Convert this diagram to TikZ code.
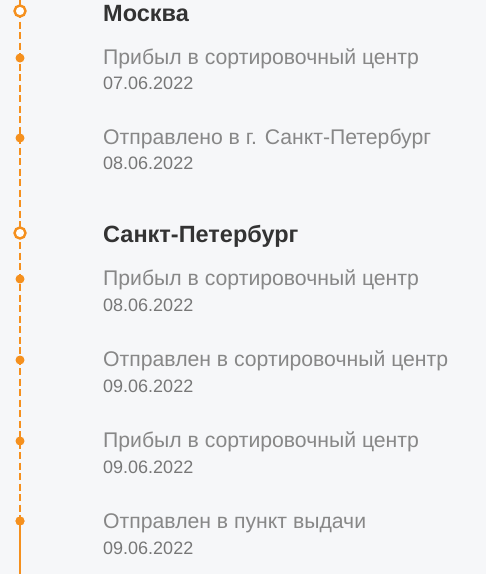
\documentclass[tikz,border=0pt]{standalone}
\usepackage{fontspec}
\setmainfont{Liberation Sans}
\definecolor{bg}{HTML}{F6F7F9}
\definecolor{orng}{HTML}{F5901E}
\definecolor{darktxt}{HTML}{333333}
\definecolor{graytxt}{HTML}{878787}
\definecolor{datetxt}{HTML}{777777}
\begin{document}
\begin{tikzpicture}[x=1pt,y=-1pt,
  city/.style={anchor=base west,inner sep=0pt,font=\fontsize{23.5}{28}\selectfont\bfseries,text=darktxt},
  evt/.style={anchor=base west,inner sep=0pt,font=\fontsize{21.2}{25}\selectfont,text=graytxt},
  dt/.style={anchor=base west,inner sep=0pt,font=\fontsize{18}{22}\selectfont,text=datetxt},
  hub/.style={circle,draw=orng,fill=white,line width=2.4pt,minimum size=11pt,inner sep=0pt},
  dot/.style={circle,fill=orng,minimum size=9pt,inner sep=0pt},
  dashline/.style={draw=orng,line width=2.4pt,dash pattern=on 7pt off 3.5pt},
  solidline/.style={draw=orng,line width=2.4pt}]
\fill[bg] (0,0) rectangle (486,574);
\useasboundingbox (0,0) rectangle (486,574);
\coordinate (top) at (20,0);
\coordinate (bottom) at (20,574);
\node[dot] (d1) at (20,58) {};
\node[dot] (d2) at (20,138) {};
\node[dot] (d3) at (20,279) {};
\node[dot] (d4) at (20,360) {};
\node[dot] (d5) at (20,441) {};
\node[dot] (d6) at (20,521) {};
\draw[solidline] (top) -- (20,11);
\draw[dashline] (20,11) -- (d6.center);
\draw[solidline] (d6.center) -- (bottom);
\node[hub] (h1) at (20,11) {};
\node[hub] (h2) at (20,233) {};
\node[dot] at (d6) {};

\node[city] (c1) at (103,21) {Москва};
\node[evt] (e1) at (103,64) {Прибыл в сортировочный центр};
\node[dt] (t1) at (103,89) {07.06.2022};
\node[evt] (e2) at (103,144) {Отправлено в г. Санкт-Петербург};
\node[dt] (t2) at (103,169) {08.06.2022};
\node[city] (c2) at (103,242) {Санкт-Петербург};
\node[evt] (e3) at (103,285) {Прибыл в сортировочный центр};
\node[dt] (t3) at (103,311) {08.06.2022};
\node[evt] (e4) at (103,366) {Отправлен в сортировочный центр};
\node[dt] (t4) at (103,392) {09.06.2022};
\node[evt] (e5) at (103,447) {Прибыл в сортировочный центр};
\node[dt] (t5) at (103,473) {09.06.2022};
\node[evt] (e6) at (103,528) {Отправлен в пункт выдачи};
\node[dt] (t6) at (103,554) {09.06.2022};
\end{tikzpicture}
\end{document}
